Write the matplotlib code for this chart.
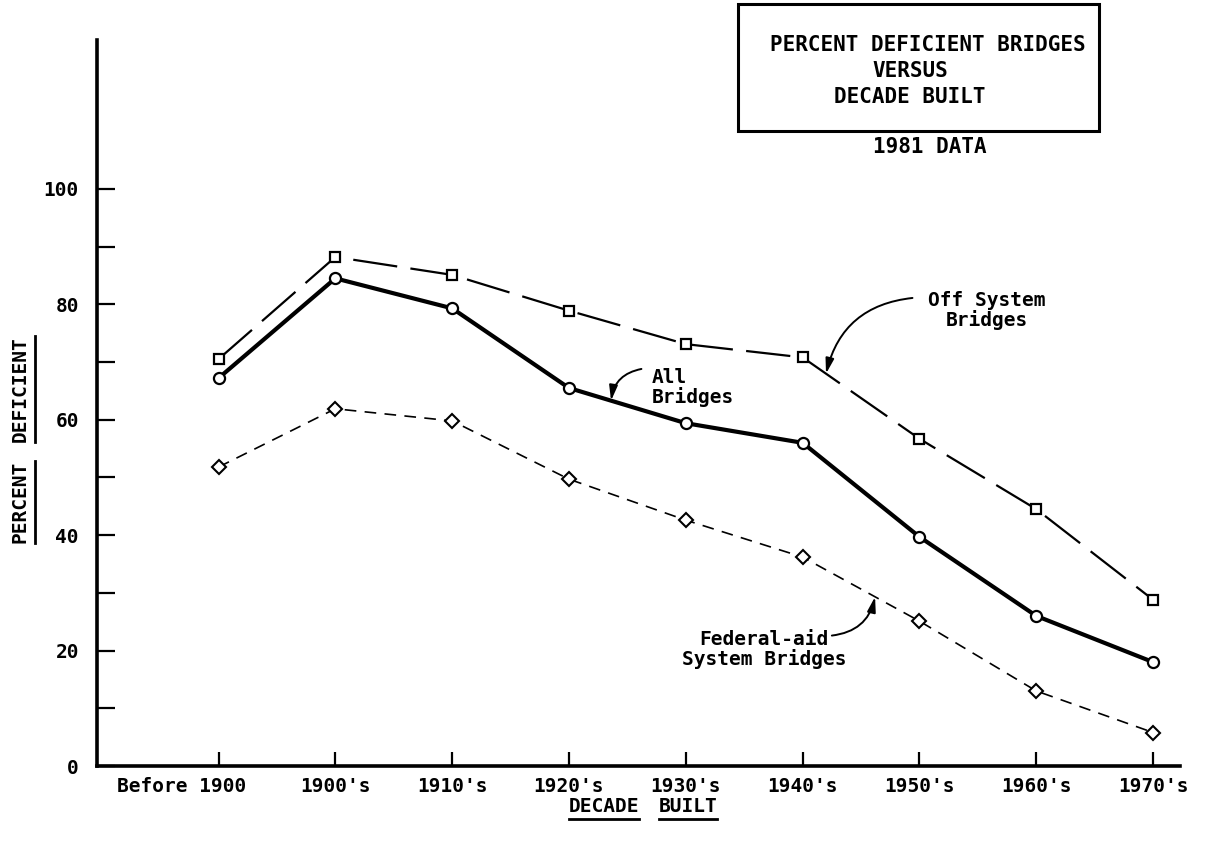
import matplotlib
matplotlib.use("Agg")
import matplotlib.pyplot as plt
import numpy as np
from matplotlib.patches import Rectangle
from matplotlib.lines import Line2D

# === DATA ===
decades = ["Before 1900", "1900's", "1910's", "1920's", "1930's",
           "1940's", "1950's", "1960's", "1970's"]
off_system = [70.5, 88.2, 85.1, 78.9, 73.1, 70.8, 56.7, 44.5, 28.8]
all_bridges = [67.2, 84.5, 79.3, 65.5, 59.4, 56.0, 39.7, 26.0, 18.0]
federal_aid = [51.8, 61.9, 59.8, 49.7, 42.6, 36.2, 25.1, 13.0, 5.8]
y_ticks = list(range(0, 101, 10))
y_tick_labels = [str(v) if v % 20 == 0 else "" for v in y_ticks]

# === STYLE ===
W, H = 1211, 847
FONT = dict(family="DejaVu Sans Mono", weight="bold")
plt.rcParams["font.family"] = "DejaVu Sans Mono"
plt.rcParams["font.weight"] = "bold"

fig = plt.figure(figsize=(W / 100, H / 100), dpi=100)
ax = fig.add_axes([97 / W, 1 - 766 / H, (1180 - 97) / W, (766 - 40) / H])

x = np.arange(len(decades))

ax.plot(x, off_system, color="black", lw=1.6, dashes=(20, 6),
        marker="s", ms=7, mfc="white", mec="black", mew=1.6)
ax.plot(x, all_bridges, color="black", lw=3.0,
        marker="o", ms=8, mfc="white", mec="black", mew=1.6)
ax.plot(x, federal_aid, color="black", lw=1.2, dashes=(7, 5),
        marker="D", ms=7, mfc="white", mec="black", mew=1.5)

ax.set_xlim(-1.04, 8.23)
ax.set_ylim(0, 125.8)

for s in ["top", "right"]:
    ax.spines[s].set_visible(False)
for s in ["left", "bottom"]:
    ax.spines[s].set_linewidth(2.6)

ax.set_yticks(y_ticks)
ax.set_yticklabels(y_tick_labels, fontsize=14, **FONT)
ax.set_xticks(x)
ax.set_xticklabels(decades, fontsize=14, **FONT)
ax.tick_params(axis="y", direction="in", length=13, width=1.6, pad=13)
ax.tick_params(axis="x", direction="in", length=10, width=1.6, pad=8)

# "Before 1900" sits to the left of its tick
lbl0 = ax.get_xticklabels()[0]
lbl0.set_horizontalalignment("right")
lbl0.set_transform(lbl0.get_transform() +
                   matplotlib.transforms.ScaledTranslation(20 / 72, 0, fig.dpi_scale_trans))


def on_line(series, pos):
    return np.interp(pos, x, series)


# === ANNOTATIONS ===
arrow = dict(arrowstyle="-|>,head_length=0.9,head_width=0.25", color="black",
             lw=1.4, shrinkA=0, shrinkB=0)

ax.text(6.58, 79.0, "Off System\nBridges", ha="center", va="center",
        multialignment="center", fontsize=14, linespacing=1.0, **FONT)
ax.annotate("", xy=(5.2, on_line(off_system, 5.2)), xytext=(5.94, 81.1),
            arrowprops=dict(arrow, connectionstyle="arc3,rad=0.35"))

ax.text(3.71, 65.5, "All\nBridges", ha="left", va="center",
        fontsize=14, linespacing=1.0, **FONT)
ax.annotate("", xy=(3.36, on_line(all_bridges, 3.36)), xytext=(3.62, 68.8),
            arrowprops=dict(arrow, connectionstyle="arc3,rad=0.35"))

ax.text(4.67, 20.2, "Federal-aid\nSystem Bridges", ha="center", va="center",
        multialignment="center", fontsize=14, linespacing=1.05, **FONT)
ax.annotate("", xy=(5.62, on_line(federal_aid, 5.62)), xytext=(5.25, 22.6),
            arrowprops=dict(arrow, connectionstyle="arc3,rad=0.35"))

# === TITLE BOX ===
fig.patches.append(Rectangle((738 / W, 1 - 131 / H), (1099 - 738) / W, 127 / H,
                             transform=fig.transFigure, fill=False,
                             lw=2.2, ec="black"))
fig.text(928 / W, 1 - 45 / H, "PERCENT DEFICIENT BRIDGES", ha="center", va="center", fontsize=15, **FONT)
fig.text(910 / W, 1 - 71 / H, "VERSUS", ha="center", va="center", fontsize=15, **FONT)
fig.text(910 / W, 1 - 97 / H, "DECADE BUILT", ha="center", va="center", fontsize=15, **FONT)
fig.text(930 / W, 1 - 147 / H, "1981 DATA", ha="center", va="center", fontsize=15, **FONT)

# === AXIS LABELS (underlined word by word) ===
words = [
    fig.text(604 / W, 1 - 806 / H, "DECADE", ha="center", va="center", fontsize=14, **FONT),
    fig.text(688 / W, 1 - 806 / H, "BUILT", ha="center", va="center", fontsize=14, **FONT),
]
ywords = [
    fig.text(20 / W, 1 - 502 / H, "PERCENT", ha="center", va="center", rotation=90, fontsize=14, **FONT),
    fig.text(20 / W, 1 - 389 / H, "DEFICIENT", ha="center", va="center", rotation=90, fontsize=14, **FONT),
]

fig.canvas.draw()
r = fig.canvas.get_renderer()
for t in words:
    bb = t.get_window_extent(r)
    fig.add_artist(Line2D([bb.x0 / W, bb.x1 / W], [(bb.y0 - 3) / H] * 2,
                          transform=fig.transFigure, color="black", lw=2.0))
for t in ywords:
    bb = t.get_window_extent(r)
    fig.add_artist(Line2D([(bb.x1 + 5) / W] * 2, [bb.y0 / H, bb.y1 / H],
                          transform=fig.transFigure, color="black", lw=2.0))

fig.savefig("out.png", dpi=100)
